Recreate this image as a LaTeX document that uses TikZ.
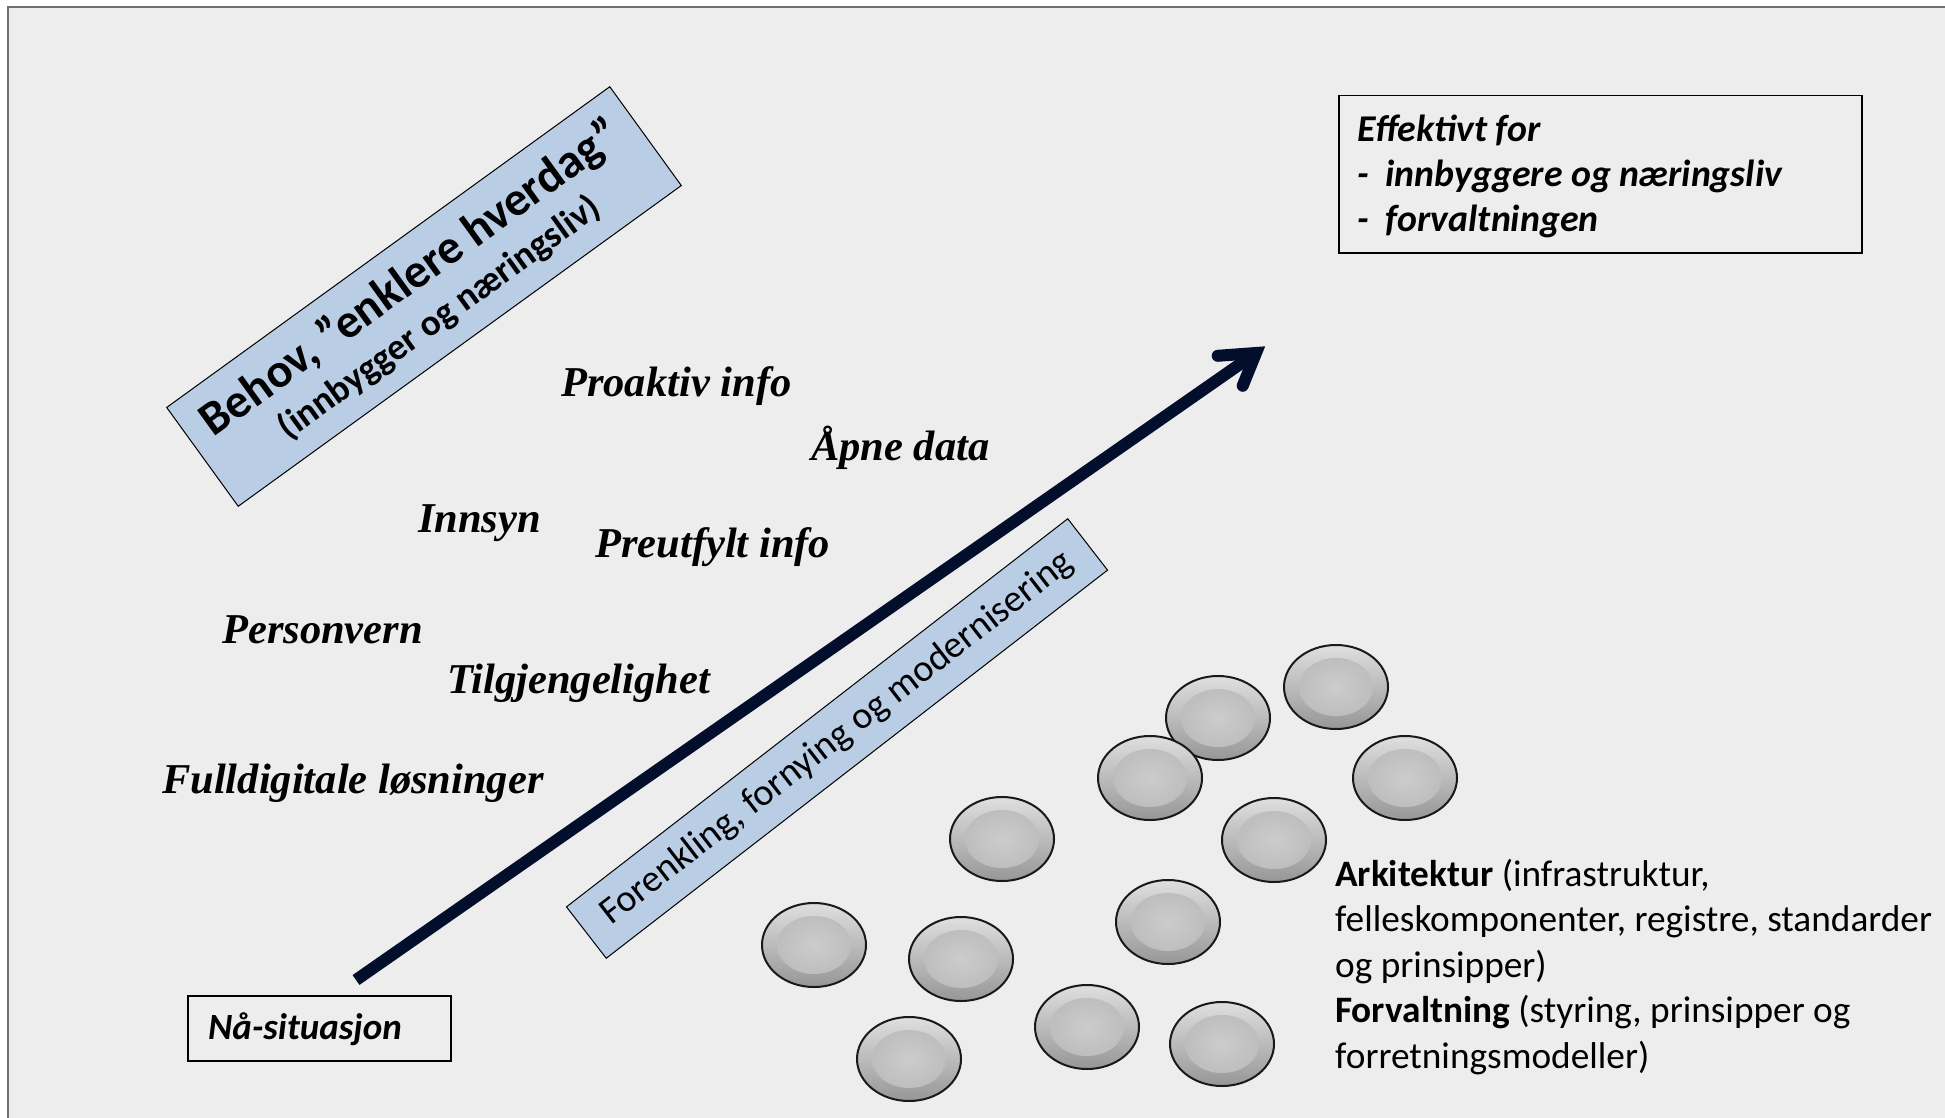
\documentclass[tikz,border=0pt]{standalone}
\usepackage{fontspec}
\setmainfont{Liberation Serif}
\newfontfamily\calib{Carlito}
\usetikzlibrary{calc,shapes.geometric}
\definecolor{bg}{RGB}{236,237,236}
\definecolor{boxblue}{RGB}{185,205,229}
\definecolor{navy}{RGB}{2,14,44}
\definecolor{framegray}{RGB}{112,112,112}
\begin{document}
\begin{tikzpicture}[x=1pt,y=-1pt,
  serifitem/.style={anchor=base west, inner sep=0pt, font=\fontsize{42.5}{50}\selectfont\bfseries\itshape},
  calline/.style={anchor=base west, inner sep=0pt, font=\calib\fontsize{37.3}{44}\selectfont},
  calbi/.style={anchor=base west, inner sep=0pt, font=\calib\fontsize{37.8}{44}\selectfont\bfseries\itshape},
  plainbox/.style={draw=black, line width=1.5pt, inner sep=0pt, anchor=north west},
  bluebox/.style={draw=black, line width=1pt, fill=boxblue, inner sep=0pt, align=center},
  disc/.style={shape=ellipse, minimum width=104pt, minimum height=84pt, inner sep=0pt,
    draw=black!90, line width=2pt, top color=gray!25, bottom color=gray!82,
    path picture={\shade[inner color=gray!40, outer color=gray!56]
      (path picture bounding box.center) ellipse[x radius=37pt, y radius=29pt];}},
  arrowline/.style={draw=navy, line width=12pt},
  arrowhead/.style={draw=navy, line width=12pt, line cap=round, line join=miter}
]
\useasboundingbox (0,0) rectangle (1945,1118);
\fill[white] (0,0) rectangle (1945,1118);
\fill[bg] (8,7) rectangle (1945,1118);
\draw[framegray, line width=2pt] (8,1118) -- (8,7) -- (1945,7);

% blue boxes
\node[bluebox, rotate=35.9, minimum width=547pt, minimum height=122pt,
  font=\calib\fontsize{37}{46}\selectfont\bfseries] (behov) at (424,296.5)
  {{\fontsize{48}{46}\selectfont Behov, ”enklere hverdag”}\\(innbygger og næringsliv)};
\node[bluebox, rotate=37.75, minimum width=634pt, minimum height=65pt,
  font=\calib\fontsize{38}{40}\selectfont] (forenk) at (837,738.5)
  {Forenkling, fornying og modernisering};

% serif items
\node[serifitem] (proaktiv) at (561,396) {Proaktiv info};
\node[serifitem] (apne) at (811,460) {Åpne data};
\node[serifitem] (innsyn) at (418,532) {Innsyn};
\node[serifitem] (preutfylt) at (595,557) {Preutfylt info};
\node[serifitem] (personvern) at (222,643) {Personvern};
\node[serifitem] (tilgj) at (447,693) {Tilgjengelighet};
\node[serifitem] (fulldig) at (162,793) {Fulldigitale løsninger};

% effektivt box
\node[plainbox, minimum width=523pt, minimum height=157pt] (eff) at (1338,95) {};
\node[calbi] (eff1) at (1357.5,142) {Effektivt for};
\node[calbi] (eff2) at (1357.5,186.5) {\makebox[28pt][l]{-}innbyggere og næringsliv};
\node[calbi] (eff3) at (1357.5,231) {\makebox[28pt][l]{-}forvaltningen};

% naa box
\node[plainbox, minimum width=263pt, minimum height=65pt] (naa) at (187,995) {};
\node[calbi, font=\calib\fontsize{37}{44}\selectfont\bfseries\itshape] (naatext) at (208,1039) {Nå-situasjon};

% arrow
\coordinate (astart) at (356,980);
\coordinate (avertex) at (1256,353);
\draw[arrowline] (astart) -- (avertex);
\draw[arrowhead] ($(avertex)+(-38.3,2.8)$) -- (avertex) -- ($(avertex)+(-13.3,32.8)$);

% discs
\node[disc] (d1) at (1336,687) {};
\node[disc] (d2) at (1218,718) {};
\node[disc] (d3) at (1150,778) {};
\node[disc] (d4) at (1405,778) {};
\node[disc] (d5) at (1002,839) {};
\node[disc] (d6) at (1274,840) {};
\node[disc] (d7) at (1168,922) {};
\node[disc] (d8) at (814,945) {};
\node[disc] (d9) at (961,959) {};
\node[disc] (d10) at (1087,1027) {};
\node[disc] (d11) at (1222,1044) {};
\node[disc] (d12) at (909,1059) {};

% architecture text
\node[calline] (ark1) at (1335,886) {\textbf{Arkitektur} (infrastruktur,};
\node[calline] (ark2) at (1335,931.5) {felleskomponenter, registre, standarder};
\node[calline] (ark3) at (1335,977) {og prinsipper)};
\node[calline] (ark4) at (1335,1022.5) {\textbf{Forvaltning} (styring, prinsipper og};
\node[calline] (ark5) at (1335,1068) {forretningsmodeller)};
\end{tikzpicture}
\end{document}
